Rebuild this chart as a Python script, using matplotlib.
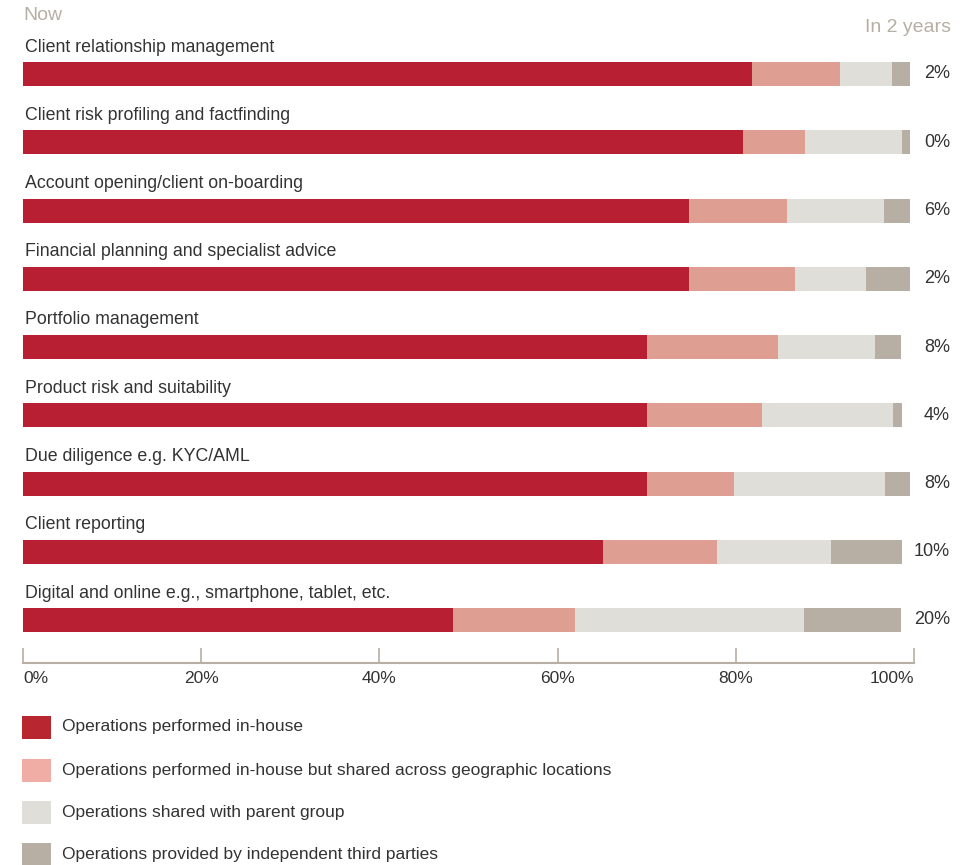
import matplotlib
matplotlib.use("Agg")
import matplotlib.pyplot as plt
from matplotlib.patches import Rectangle
import numpy as np

plt.rcParams['font.family'] = ['Liberation Sans', 'DejaVu Sans']

categories = [
    "Client relationship management",
    "Client risk profiling and factfinding",
    "Account opening/client on-boarding",
    "Financial planning and specialist advice",
    "Portfolio management",
    "Product risk and suitability",
    "Due diligence e.g. KYC/AML",
    "Client reporting",
    "Digital and online e.g., smartphone, tablet, etc.",
]
in_house = [81.8, 80.8, 74.8, 74.8, 70.0, 70.0, 70.0, 65.1, 48.3]
shared_geo = [9.9, 7.0, 10.9, 11.9, 14.7, 12.9, 9.8, 12.8, 13.7]
parent_group = [5.8, 10.8, 10.9, 7.9, 10.9, 14.7, 16.9, 12.8, 25.7]
third_party = [2.0, 1.0, 2.9, 4.9, 2.9, 1.0, 2.9, 7.9, 10.8]
in_2_years = ["2%", "0%", "6%", "2%", "8%", "4%", "8%", "10%", "20%"]

series_names = [
    "Operations performed in-house",
    "Operations performed in-house but shared across geographic locations",
    "Operations shared with parent group",
    "Operations provided by independent third parties",
]
bar_colors = ["#B81F33", "#DF9E92", "#E0DED9", "#B8AFA4"]
legend_colors = ["#B8262F", "#F0ADA5", "#E0DED9", "#B8AFA4"]
xticks = [0, 20, 40, 60, 80, 100]
xtick_labels = ["0%", "20%", "40%", "60%", "80%", "100%"]

W, H = 971, 865
fig = plt.figure(figsize=(W / 100, H / 100), dpi=100)

ax_left, ax_right = 23, 914
ax_bottom_px, ax_top_px = 663, 0
ax = fig.add_axes([ax_left / W, 1 - ax_bottom_px / H,
                   (ax_right - ax_left) / W, (ax_bottom_px - ax_top_px) / H])

first_center = 74.0
spacing = 68.25
ax.set_ylim((ax_bottom_px - first_center) / spacing, (ax_top_px - first_center) / spacing)
ax.set_xlim(0, 100)

y = np.arange(len(categories))
bar_h = 24 / spacing
left = np.zeros(len(categories))
for vals, c in zip([in_house, shared_geo, parent_group, third_party], bar_colors):
    ax.barh(y, vals, left=left, height=bar_h, color=c, edgecolor='none')
    left = left + np.array(vals)

text_color = "#333333"
for i, cat in enumerate(categories):
    ax.text(0.2, i - 27 / spacing, cat, ha='left', va='center',
            fontsize=12.75, color=text_color)
    ax.text((950 - ax_left) / (ax_right - ax_left) * 100, i, in_2_years[i],
            ha='right', va='center', fontsize=13, color=text_color, clip_on=False)

for s in ['top', 'right', 'left']:
    ax.spines[s].set_visible(False)
axis_grey = "#B8AFA4"
ax.spines['bottom'].set_color(axis_grey)
ax.spines['bottom'].set_linewidth(1.5)
ax.set_yticks([])
ax.set_xticks(xticks)
ax.set_xticklabels(xtick_labels)
ax.tick_params(axis='x', direction='in', length=11, width=1.2, color=axis_grey,
               labelsize=12.5, labelcolor=text_color, pad=6)
ax.xaxis.set_ticks_position('bottom')
for lbl, v in zip(ax.get_xticklabels(), xticks):
    if v == 0:
        lbl.set_horizontalalignment('left')
    elif v == 100:
        lbl.set_horizontalalignment('right')

# Header labels
fig.text(23 / W, 1 - 16 / H, "Now", ha='left', va='center', fontsize=14, color="#B8AFA4")
fig.text(951 / W, 1 - 27 / H, "In 2 years", ha='right', va='center', fontsize=14, color="#B8AFA4")

# Legend
legend_y = [727, 770, 812, 854]
for name, c, yc in zip(series_names, legend_colors, legend_y):
    fig.patches.append(Rectangle((22 / W, 1 - (yc + 11.5) / H), 29 / W, 23 / H,
                                 transform=fig.transFigure, facecolor=c,
                                 edgecolor='none'))
    fig.text(62 / W, 1 - yc / H, name, ha='left', va='center', fontsize=12.5,
             color=text_color)

fig.savefig("out.png", dpi=100)
